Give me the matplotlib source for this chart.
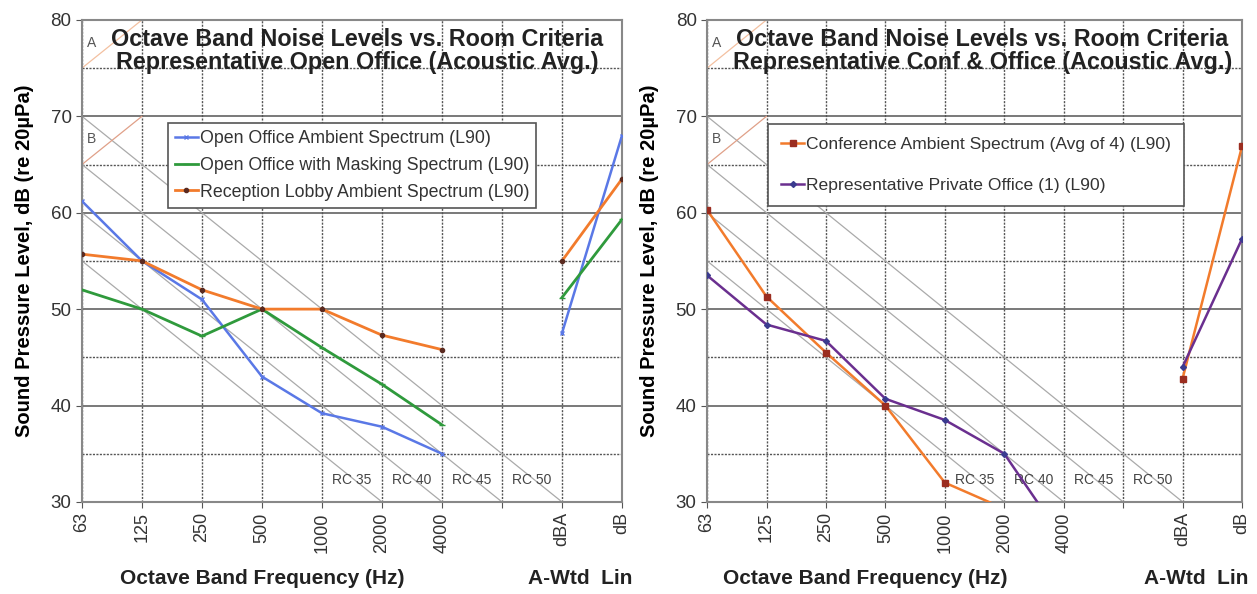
import numpy as np
import matplotlib.pyplot as plt

# octave band positions + blank slot + A-weighted / linear
tick_labels = ['63', '125', '250', '500', '1000', '2000', '4000', '', 'dBA', 'dB']
nan = np.nan

# left chart (open office)
open_ambient = [61.2, 55.0, 51.0, 43.0, 39.2, 37.8, 35.0, nan, 47.5, 68.0]
open_masking = [52.0, 50.0, 47.2, 50.0, 46.0, 42.2, 38.0, nan, 51.2, 59.3]
lobby_ambient = [55.7, 55.0, 52.0, 50.0, 50.0, 47.3, 45.8, nan, 55.0, 63.5]

# right chart (conf & office)
conf_ambient = [60.3, 51.3, 45.5, 40.0, 32.0, 29.3, 26.0, nan, 42.8, 66.9]
private_office = [53.5, 48.4, 46.7, 40.7, 38.5, 35.0, 26.0, nan, 44.0, 57.3]

rc_levels = [35, 40, 45, 50]   # value at 1000 Hz, -5 dB per octave
rc_names = ['RC 35', 'RC 40', 'RC 45', 'RC 50']

BLUE = '#5a78e6'
GREEN = '#2f9a3c'
ORANGE = '#f27b2c'
PURPLE = '#6a2f8f'
MARK = '#5a2a20'

plt.rcParams['font.family'] = ['Liberation Sans', 'DejaVu Sans']

fig = plt.figure(figsize=(12.57, 5.94), dpi=100)
ax1 = fig.add_axes([0.0652, 0.155, 0.4296, 0.8115])
ax2 = fig.add_axes([0.5625, 0.155, 0.4256, 0.8115])


def setup(ax, title, title_x):
    ax.set_xlim(0, 9)
    ax.set_ylim(30, 80)
    x = np.arange(10)
    # grid
    for v in range(30, 81, 10):
        ax.axhline(v, color='#555555', lw=1.1, zorder=1)
    for v in range(35, 80, 10):
        ax.axhline(v, color='#555555', lw=1.0, ls=(0, (1.5, 1)), zorder=1)
    for p in x:
        ax.axvline(p, color='#555555', lw=1.0, ls=(0, (1.5, 1)), zorder=1)
    # RC reference lines
    for lvl in rc_levels:
        ax.plot(x, [lvl + 5 * (4 - p) for p in x], color='#aaaaaa', lw=0.9, zorder=2)
    for i, name in enumerate(rc_names):
        ax.text(4.5 + i, 32.3, name, ha='center', va='center', fontsize=10,
                color='#444444', zorder=3)
    # A / B region marks
    ax.plot([0, 1], [75, 80], color='#f3c0a0', lw=0.9, zorder=2)
    ax.plot([0, 1], [65, 70], color='#e0a088', lw=0.9, zorder=2)
    ax.text(0.08, 77.6, 'A', fontsize=10, color='#555555', va='center', zorder=3)
    ax.text(0.08, 67.6, 'B', fontsize=10, color='#555555', va='center', zorder=3)

    ax.set_xticks(x)
    ax.set_xticklabels(tick_labels, rotation=90, fontsize=13)
    ax.set_yticks(range(30, 81, 10))
    ax.tick_params(axis='y', labelsize=13.5, length=4, color='#555555',
                   labelcolor='#333333')
    ax.tick_params(axis='x', length=4, color='#555555', labelcolor='#333333')
    for s in ax.spines.values():
        s.set_color('#888888')
        s.set_linewidth(1.5)
    ax.text(title_x, 76.75, title, ha='center', va='center', fontsize=16.8,
            fontweight='bold', linespacing=1.0, color='#222222', zorder=6)
    ax.set_ylabel('Sound Pressure Level, dB (re 20µPa)', fontsize=14.5,
                  fontweight='bold', labelpad=12)


setup(ax1, 'Octave Band Noise Levels vs. Room Criteria\n'
           'Representative Open Office (Acoustic Avg.)', 4.58)
setup(ax2, 'Octave Band Noise Levels vs. Room Criteria\n'
           'Representative Conf & Office (Acoustic Avg.)', 4.63)

x = np.arange(10)
ax1.plot(x, open_ambient, color=BLUE, lw=1.8, marker='x', ms=3.5,
         mec=BLUE, label='Open Office Ambient Spectrum (L90)', zorder=4)
ax1.plot(x, open_masking, color=GREEN, lw=2.0, marker='_', ms=4,
         mec=GREEN, label='Open Office with Masking Spectrum (L90)', zorder=4)
ax1.plot(x, lobby_ambient, color=ORANGE, lw=2.0, marker='o', ms=3,
         mfc=MARK, mec=MARK, label='Reception Lobby Ambient Spectrum (L90)', zorder=4)

ax2.plot(x, conf_ambient, color=ORANGE, lw=1.8, marker='s', ms=5,
         mfc='#9b2d20', mec='#9b2d20',
         label='Conference Ambient Spectrum (Avg of 4) (L90)', zorder=4)
ax2.plot(x, private_office, color=PURPLE, lw=1.8, marker='D', ms=3,
         mfc='#3b3b8f', mec='#3b3b8f',
         label='Representative Private Office (1) (L90)', zorder=4)

leg1 = ax1.legend(loc='upper left', bbox_to_anchor=(0.159, 0.786), fontsize=12.8,
                  frameon=True, fancybox=False, handlelength=1.3, handletextpad=0.1,
                  borderpad=0.4, labelspacing=0.55, borderaxespad=0)
leg2 = ax2.legend(loc='upper left', bbox_to_anchor=(0.114, 0.784), fontsize=12.6,
                  frameon=True, fancybox=False, handlelength=1.3, handletextpad=0.1,
                  borderpad=0.75, labelspacing=1.45, borderaxespad=0)
for leg in (leg1, leg2):
    leg.get_frame().set_edgecolor('#555555')
    leg.get_frame().set_linewidth(1.2)
    leg.get_frame().set_alpha(1)
    leg.set_zorder(7)
    for t in leg.get_texts():
        t.set_color('#333333')

fig.text(262 / 1257, 1 - 579 / 594, 'Octave Band Frequency (Hz)', ha='center',
         va='center', fontsize=15, fontweight='bold', color='#222222')
fig.text(580 / 1257, 1 - 579 / 594, 'A-Wtd  Lin', ha='center', va='center',
         fontsize=15, fontweight='bold', color='#222222')
fig.text(865 / 1257, 1 - 579 / 594, 'Octave Band Frequency (Hz)', ha='center',
         va='center', fontsize=15, fontweight='bold', color='#222222')
fig.text(1196 / 1257, 1 - 579 / 594, 'A-Wtd  Lin', ha='center', va='center',
         fontsize=15, fontweight='bold', color='#222222')

fig.savefig('out.png', dpi=100, facecolor='white')
